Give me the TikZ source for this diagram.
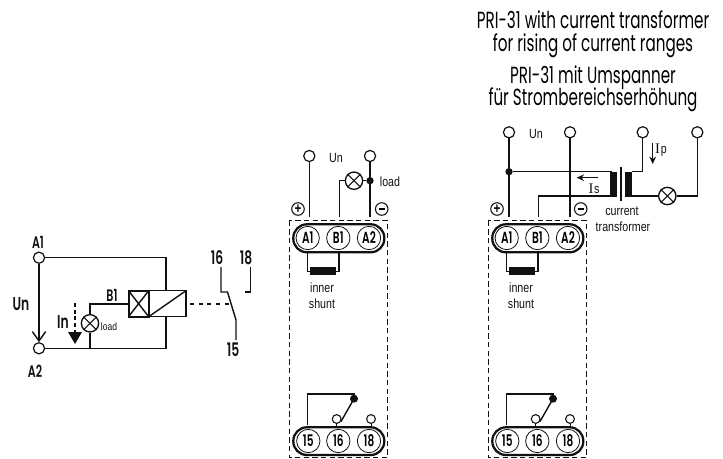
\documentclass[tikz,border=0pt]{standalone}
\usepackage{fontspec}
\setmainfont[FakeStretch=0.8]{Liberation Sans}
\newfontfamily\fut[FakeStretch=0.65]{Poppins}
\newfontfamily\futb[FakeStretch=0.66]{Poppins SemiBold}
\newfontfamily\ser{Liberation Serif}
\usetikzlibrary{arrows.meta}
\definecolor{ink}{HTML}{111111}
\tikzset{
  wire/.style={draw=ink,line width=1.05pt},
  term/.style={circle,draw=ink,line width=0.9pt,fill=white,minimum size=8.4pt,inner sep=0pt},
  sterm/.style={circle,draw=ink,line width=0.8pt,fill=white,minimum size=6.6pt,inner sep=0pt},
  dotn/.style={circle,fill=ink,minimum size=5.5pt,inner sep=0pt},
  lampn/.style={circle,draw=ink,line width=1pt,fill=white,minimum size=13pt,inner sep=0pt},
  pill/.style={draw=ink,line width=1.7pt,rounded corners=10.2pt},
  pin/.style={circle,draw=ink,line width=0.6pt,minimum size=17.5pt,inner sep=0pt,font=\fontsize{12}{12}\futb},
  pol/.style={circle,draw=ink,line width=0.8pt,minimum size=9.4pt,inner sep=0pt,font=\fontsize{11}{11}\bfseries},
  lbl/.style={font=\fontsize{10}{11}\selectfont,text=ink,inner sep=0pt},
  blbl/.style={font=\fontsize{12.5}{13}\futb,text=ink,inner sep=0pt},
  ttl/.style={font=\fontsize{17.5}{18}\fut,text=black,inner sep=0pt,anchor=base},
  frame/.style={draw=ink,line width=1pt,dashed,dash pattern=on 4pt off 2.5pt},
  arr/.style={draw=ink,line width=1.05pt,-{Stealth[length=5.5pt,width=5pt]}}
}
\newcommand{\lampx}[1]{\draw[wire,line width=0.8pt] (#1.north west) -- (#1.south east) (#1.north east) -- (#1.south west);}
\newcommand{\relayblock}[2]{%
  \begin{scope}[xshift=#1*0.75pt]
  \draw[frame] (289.3,220.7) rectangle (387.3,457.7);
  \draw[pill] (293.3,224.3) rectangle (384.3,252.3);
  \node[pin] (#2a1) at (307.7,238) {A1};
  \node[pin] (#2b1) at (338.3,238) {B1};
  \node[pin] (#2a2) at (369,238) {A2};
  \draw[wire] (307.3,252.3) -- (307.3,271.5) -- (339,271.5) -- (339,252.3);
  \fill[ink] (310,267.3) rectangle (335.7,275.3);
  \node[lbl] (#2inner) at (322,288) {inner};
  \node[lbl] (#2shunt) at (322,304) {shunt};
  \node[pol] (#2plus) at (298,209) {+};
  \node[pol] (#2minus) at (381.7,209) {\rule{4.5pt}{1.6pt}};
  \draw[pill] (293.3,427.3) rectangle (384.3,455);
  \node[pin] (#2p15) at (308.3,441) {15};
  \node[pin] (#2p16) at (338.3,441) {16};
  \node[pin] (#2p18) at (369,441) {18};
  \coordinate (#2c) at (307.3,425);
  \node[dotn,minimum size=6pt] (#2d) at (354,398.7) {};
  \draw[wire] (#2c) -- (307.3,394) -- (354,394) -- (#2d.center);
  \node[sterm] (#2s16) at (336.7,419) {};
  \node[sterm] (#2s18) at (371,419) {};
  \draw[wire] (#2d.center) -- (341,421.5);
  \draw[wire,line width=0.6pt] (#2s16) -- (336.7,427.3) (#2s18) -- (371,427.3);
  \end{scope}}
\begin{document}
\begin{tikzpicture}[x=0.75pt,y=-0.75pt]
\useasboundingbox (0,0) rectangle (723,459);
% titles
\node[ttl] (t1) at (593,28.5) {PRI-31 with current transformer};
\node[ttl] (t2) at (593,52) {for rising of current ranges};
\node[ttl] (t3) at (593,84) {PRI-31 mit Umspanner};
\node[ttl] (t4) at (593,106) {für Strombereichserhöhung};
% left schematic
\node[term] (la1) at (39,257.7) {};
\node[term] (la2) at (39,348.3) {};
\node[blbl] (tA1) at (38,242.5) {A1};
\node[blbl] (tA2) at (35,371) {A2};
\node[blbl,font=\fontsize{14}{14}\futb] (tUn) at (21,304) {Un};
\node[blbl,font=\fontsize{14}{14}\futb] (tIn) at (63,322) {In};
\node[blbl] (tB1) at (112,295) {B1};
\node[lbl,font=\fontsize{8}{8}\selectfont] (tload) at (109,327) {load};
\node[blbl,font=\fontsize{14}{14}\futb] (t16) at (217,258) {16};
\node[blbl,font=\fontsize{14}{14}\futb] (t18) at (246,258) {18};
\node[blbl,font=\fontsize{14}{14}\futb] (t15) at (233,350) {15};
\draw[wire,line width=1.5pt] (128.5,290.7) rectangle (148.7,316.7);
\coordinate (cw) at (128.5,304);
\draw[wire] (148.7,290.7) rectangle (186,316.7);
\draw[wire] (128.5,290.7) -- (148.7,316.7) (148.7,290.7) -- (128.5,316.7);
\draw[wire] (148.7,316.7) -- (186,290.7);
\coordinate (ctop) at (166,290.7);
\coordinate (cbot) at (166,316.7);
\draw[wire] (la1) -- (166,257.7) -- (ctop);
\draw[wire] (la2) -- (166,348.3) -- (cbot);
\node[lampn] (llamp) at (90,323.3) {};
\lampx{llamp}
\draw[wire] (cw) -- (90,304) -- (llamp);
\draw[wire] (llamp) -- (90,348.3);
\draw[draw=ink,line width=1.05pt,-{Straight Barb[length=7pt,width=10pt]}] (la1) -- (la2);
\draw[draw=ink,line width=0.9pt,dashed,dash pattern=on 3pt off 2pt] (75,303) -- (75,333);
\fill[ink] (68,332) -- (82,332) -- (75,344) -- cycle;
\coordinate (c1) at (227.5,292);
\coordinate (c2) at (236,320);
\draw[wire] (221,267) -- (221,292) -- (c1) -- (c2) -- (236,340);
\draw[wire] (250.7,267) -- (250.7,292) -- (245,292);
\draw[draw=ink,line width=0.8pt,dashed,dash pattern=on 3pt off 3.5pt] (190,304) -- (230,304);
% middle unit
\relayblock{0}{m}
\node[term] (mt1) at (309.3,156) {};
\node[term] (mt2) at (370,156) {};
\node[lbl] (mUn) at (336,158) {Un};
\node[lampn] (mlamp) at (354,180.7) {};
\lampx{mlamp}
\node[dotn] (mdot) at (370,180.7) {};
\node[lbl] (mload) at (390,182) {load};
\coordinate (mA1) at (309.3,217);
\coordinate (mB1) at (339.5,217);
\coordinate (mA2) at (370,217);
\draw[wire] (mt1) -- (mA1);
\draw[wire] (mt2) -- (mA2);
\draw[wire] (mlamp) -- (mdot);
\draw[wire] (mlamp) -- (339.5,180.7) -- (mB1);
% right unit
\relayblock{199}{r}
\node[term] (rt1) at (509,132.3) {};
\node[term] (rt2) at (570,132.3) {};
\node[term] (rt3) at (642.7,132.3) {};
\node[term] (rt4) at (697.3,132.3) {};
\node[lbl] (rUn) at (536,134) {Un};
\node[dotn] (rdot) at (509,171.7) {};
\coordinate (rA1) at (509,217);
\coordinate (rB1) at (538.5,217);
\coordinate (rA2) at (570,217);
\draw[wire] (rt1) -- (rA1);
\draw[wire] (rt2) -- (rA2);
\draw[wire] (rdot) -- (612,171.7);
\draw[wire] (rB1) -- (538.5,196) -- (612,196);
\fill[ink] (610,171.7) rectangle (616.7,196.7);
\fill[ink] (625.3,171.7) rectangle (632.3,196.7);
\draw[wire,line width=1.3pt] (620.8,167) -- (620.8,201);
\node[lampn] (rlamp) at (667.3,196) {};
\lampx{rlamp}
\draw[wire] (rt3) -- (642.7,171.7) -- (632,171.7);
\draw[wire] (632,196) -- (rlamp);
\draw[wire] (rlamp) -- (697.3,196) -- (rt4);
\coordinate (is1) at (598.3,177.7);
\coordinate (is2) at (576.7,177.7);
\draw[arr] (is1) -- (is2);
\coordinate (ip1) at (652.7,143);
\coordinate (ip2) at (652.7,164);
\draw[arr] (ip1) -- (ip2);
\node[lbl] (tIs) at (594,189) {{\fontsize{11}{11}\ser I}\kern0.6pt s};
\node[lbl] (tIp) at (661,150) {{\fontsize{11}{11}\ser I}\kern0.6pt p};
\node[lbl] (tcur) at (622,211) {current};
\node[lbl] (ttr) at (623,227) {transformer};
\end{tikzpicture}
\end{document}
